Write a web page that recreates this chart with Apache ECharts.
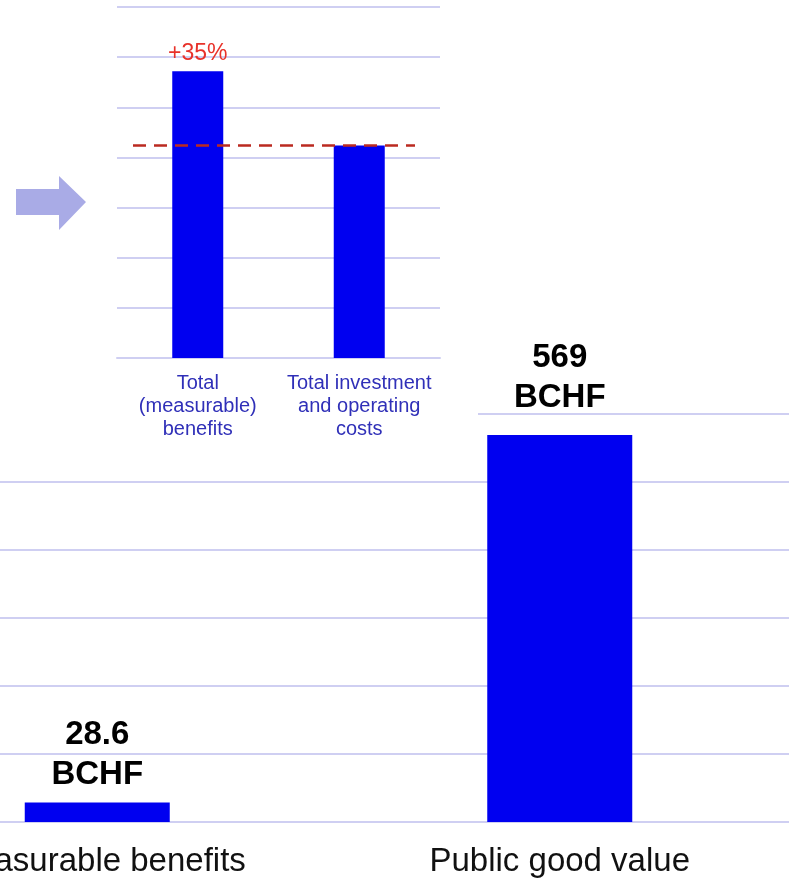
<!DOCTYPE html>
<html>
<head>
<meta charset="utf-8">
<script src="https://cdn.jsdelivr.net/npm/echarts@6/dist/echarts.min.js"></script>
<style>
html, body { margin: 0; padding: 0; background: #fff; }
#chart { width: 789px; height: 880px; }
</style>
</head>
<body>
<div id="chart"></div>
<script>
// inset: benefits vs costs (BCHF)
var insetCategories = ['Total\n(measurable)\nbenefits', 'Total investment\nand operating\ncosts'];
var insetValues = [28.6, 21.2];

// main: measurable benefits vs public good value (BCHF)
var mainCategories = ['Measurable benefits', 'Public good value'];
var mainValues = [28.6, 569];

var gridColor = '#cfcff2';
var barColor = '#0000f0';
var font = '"Liberation Sans", Arial, sans-serif';
var labelGaps = [8, 17];

var gain = Math.round((insetValues[0] / insetValues[1] - 1) * 100);

var option = {
    backgroundColor: '#fff',
    animation: false,
    textStyle: { fontFamily: font },
    grid: [
        { left: 117, top: 7, width: 323, height: 351, outerBoundsMode: 'none' },
        { left: -134, width: 925, top: 414, height: 408, outerBoundsMode: 'none' }
    ],
    graphic: [
        // white panel behind the inset (hides the main chart's top grid line)
        { type: 'rect', z: 1, shape: { x: 0, y: 0, width: 478, height: 440 }, style: { fill: '#fff' } },
        { type: 'polygon', z: 10,
          shape: { points: [[16, 189], [59, 189], [59, 176], [86, 202], [59, 230], [59, 215], [16, 215]] },
          style: { fill: '#a9abe6' } }
    ],
    xAxis: [
        {
            gridIndex: 0, type: 'category', data: insetCategories, z: 5,
            axisLine: { lineStyle: { color: gridColor, width: 2 } },
            axisTick: { show: false },
            axisLabel: { color: '#3030b8', fontSize: 20, lineHeight: 23, margin: 14, interval: 0 }
        },
        {
            gridIndex: 1, type: 'category', data: mainCategories,
            axisLine: { lineStyle: { color: gridColor, width: 2 } },
            axisTick: { show: false },
            axisLabel: { color: '#111', fontSize: 33, margin: 23, interval: 0 }
        }
    ],
    yAxis: [
        {
            gridIndex: 0, type: 'value', min: 0, max: 35, interval: 5, z: 5,
            axisLine: { show: false }, axisTick: { show: false }, axisLabel: { show: false },
            splitLine: { lineStyle: { color: gridColor, width: 2 } }
        },
        {
            gridIndex: 1, type: 'value', min: 0, max: 600, interval: 100,
            axisLine: { show: false }, axisTick: { show: false }, axisLabel: { show: false },
            splitLine: { lineStyle: { color: gridColor, width: 2 } }
        }
    ],
    series: [
        {
            type: 'bar', xAxisIndex: 0, yAxisIndex: 0, z: 6,
            data: insetValues, barWidth: 51,
            itemStyle: { color: barColor },
            label: {
                show: true, position: 'top', distance: 6,
                color: '#e8322a', fontSize: 23,
                formatter: function (p) { return p.dataIndex === 0 ? '+' + gain + '%' : ''; }
            },
            markLine: {
                silent: true, symbol: 'none', z: 7,
                lineStyle: { color: '#bb2a20', type: [13, 8], width: 2.5 },
                label: { show: false },
                data: [[{ x: 133, yAxis: insetValues[1] }, { x: 415, yAxis: insetValues[1] }]]
            }
        },
        {
            type: 'bar', xAxisIndex: 1, yAxisIndex: 1,
            data: mainValues.map(function (v, i) {
                return { value: v, label: { distance: labelGaps[i] } };
            }),
            barWidth: 145,
            itemStyle: { color: barColor },
            label: {
                show: true, position: 'top',
                color: '#000', fontSize: 33, fontWeight: 'bold', lineHeight: 40,
                formatter: '{c}\nBCHF'
            }
        }
    ]
};

var chart = echarts.init(document.getElementById('chart'));
chart.setOption(option);
window.onresize = chart.resize;
</script>
</body>
</html>
